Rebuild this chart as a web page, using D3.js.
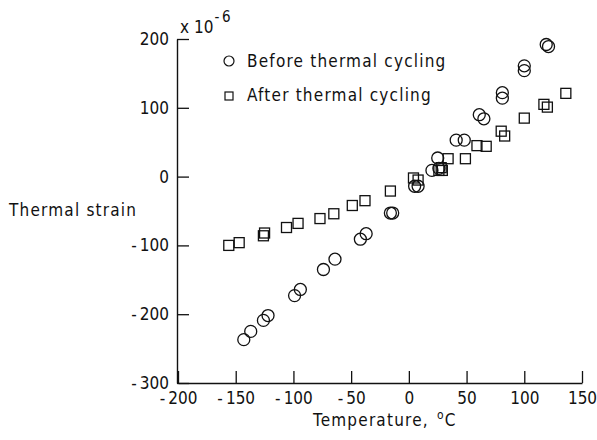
<!DOCTYPE html>
<html>
<head>
<meta charset="utf-8">
<script src="https://cdn.jsdelivr.net/npm/d3@7"></script>
<style>
  html, body { margin: 0; padding: 0; background: #fff; }
  svg text {
    font-family: "DejaVu Sans", sans-serif;
    font-stretch: condensed;
    fill: #111;
  }
</style>
</head>
<body>
<svg id="chart" width="597" height="440"></svg>
<script>
// Thermal strain (x 10^-6) versus temperature (deg C)
const beforeTemp = [119, 121, 100, 100, 81, 81, 61, 65, 41, 48, 25, 20, 26, 5, 8,
  -16, -14, -37, -42, -64, -74, -94, -99, -122, -126, -137, -143];
const beforeStrain = [192, 189, 161, 154, 122, 114, 90, 84, 53, 53, 27, 9, 12, -14, -14,
  -53, -53, -83, -91, -120, -135, -164, -173, -202, -209, -225, -237];

const afterTemp = [136, 117, 120, 100, 80, 83, 59, 67, 49, 34, 28, 29, 26, 4, 8,
  -16, -38, -49, -65, -77, -96, -106, -125, -126, -147, -156];
const afterStrain = [121, 105, 101, 85, 66, 59, 45, 44, 26, 26, 13, 9, 9, -2, -5,
  -21, -35, -42, -54, -61, -68, -74, -82, -86, -96, -100];

const xTicks = [-200, -150, -100, -50, 0, 50, 100, 150];
const yTicks = [-300, -200, -100, 0, 100, 200];
const legendLabels = ["Before thermal cycling", "After thermal cycling"];

const svg = d3.select("#chart");
const x = d3.scaleLinear().domain([-200, 150]).range([178, 582]);
const y = d3.scaleLinear().domain([-300, 200]).range([383, 39]);

const fmt = v => v < 0 ? "-\u2009" + Math.abs(v) : String(v);
const fontSize = "17px";
const spacing = "1.2px";

// Axes with inward ticks
const yAxis = svg.append("g")
  .attr("transform", `translate(${x(-200) - 1},0)`)
  .call(d3.axisLeft(y).tickValues(yTicks).tickFormat(fmt)
    .tickSizeInner(-12).tickSizeOuter(0).tickPadding(8));
const xAxis = svg.append("g")
  .attr("transform", `translate(0,${y(-300)})`)
  .call(d3.axisBottom(x).tickValues(xTicks).tickFormat(fmt)
    .tickSizeInner(-12).tickSizeOuter(0).tickPadding(9));

[yAxis, xAxis].forEach(g => {
  g.select(".domain").attr("stroke", "#111").attr("stroke-width", 1.4);
  g.selectAll(".tick line").attr("stroke", "#111").attr("stroke-width", 1.3);
  g.selectAll(".tick text")
    .style("font-size", fontSize)
    .style("font-family", "DejaVu Sans")
    .style("font-stretch", "condensed")
    .attr("fill", "#111");
});

// Scale factor note above the y axis
const sf = svg.append("text").attr("x", 180).attr("y", 33)
  .style("font-size", fontSize);
sf.append("tspan").text("x 10");
sf.append("tspan").attr("dx", 1).attr("dy", -11).style("font-size", "15px").text("-\u20096");

// Axis titles
svg.append("text").attr("x", 9).attr("y", 216)
  .style("font-size", fontSize).style("letter-spacing", spacing)
  .text("Thermal strain");

const xt = svg.append("text").attr("x", 313).attr("y", 426)
  .style("font-size", fontSize).style("letter-spacing", spacing);
xt.append("tspan").text("Temperature, ");
xt.append("tspan").attr("dx", 2).attr("dy", -7).style("font-size", "12px").text("o");
xt.append("tspan").attr("dy", 7).text("C");

// Data markers
const plot = svg.append("g").attr("fill", "none").attr("stroke", "#111").attr("stroke-width", 1.3);

plot.selectAll("circle.before")
  .data(d3.zip(beforeTemp, beforeStrain))
  .join("circle")
  .attr("class", "before")
  .attr("cx", d => x(d[0]))
  .attr("cy", d => y(d[1]))
  .attr("r", 6);

const sq = 10;
plot.selectAll("rect.after")
  .data(d3.zip(afterTemp, afterStrain))
  .join("rect")
  .attr("class", "after")
  .attr("x", d => x(d[0]) - sq / 2)
  .attr("y", d => y(d[1]) - sq / 2)
  .attr("width", sq)
  .attr("height", sq);

// Legend
const legend = svg.append("g");
legend.append("circle").attr("cx", 229).attr("cy", 61).attr("r", 5)
  .attr("fill", "none").attr("stroke", "#111").attr("stroke-width", 1.2);
legend.append("rect").attr("x", 225).attr("y", 92).attr("width", 8).attr("height", 8)
  .attr("fill", "none").attr("stroke", "#111").attr("stroke-width", 1.2);
legend.selectAll("text")
  .data(legendLabels)
  .join("text")
  .attr("x", 247)
  .attr("y", (d, i) => 67 + i * 34)
  .style("font-size", fontSize).style("letter-spacing", spacing)
  .text(d => d);
</script>
</body>
</html>
